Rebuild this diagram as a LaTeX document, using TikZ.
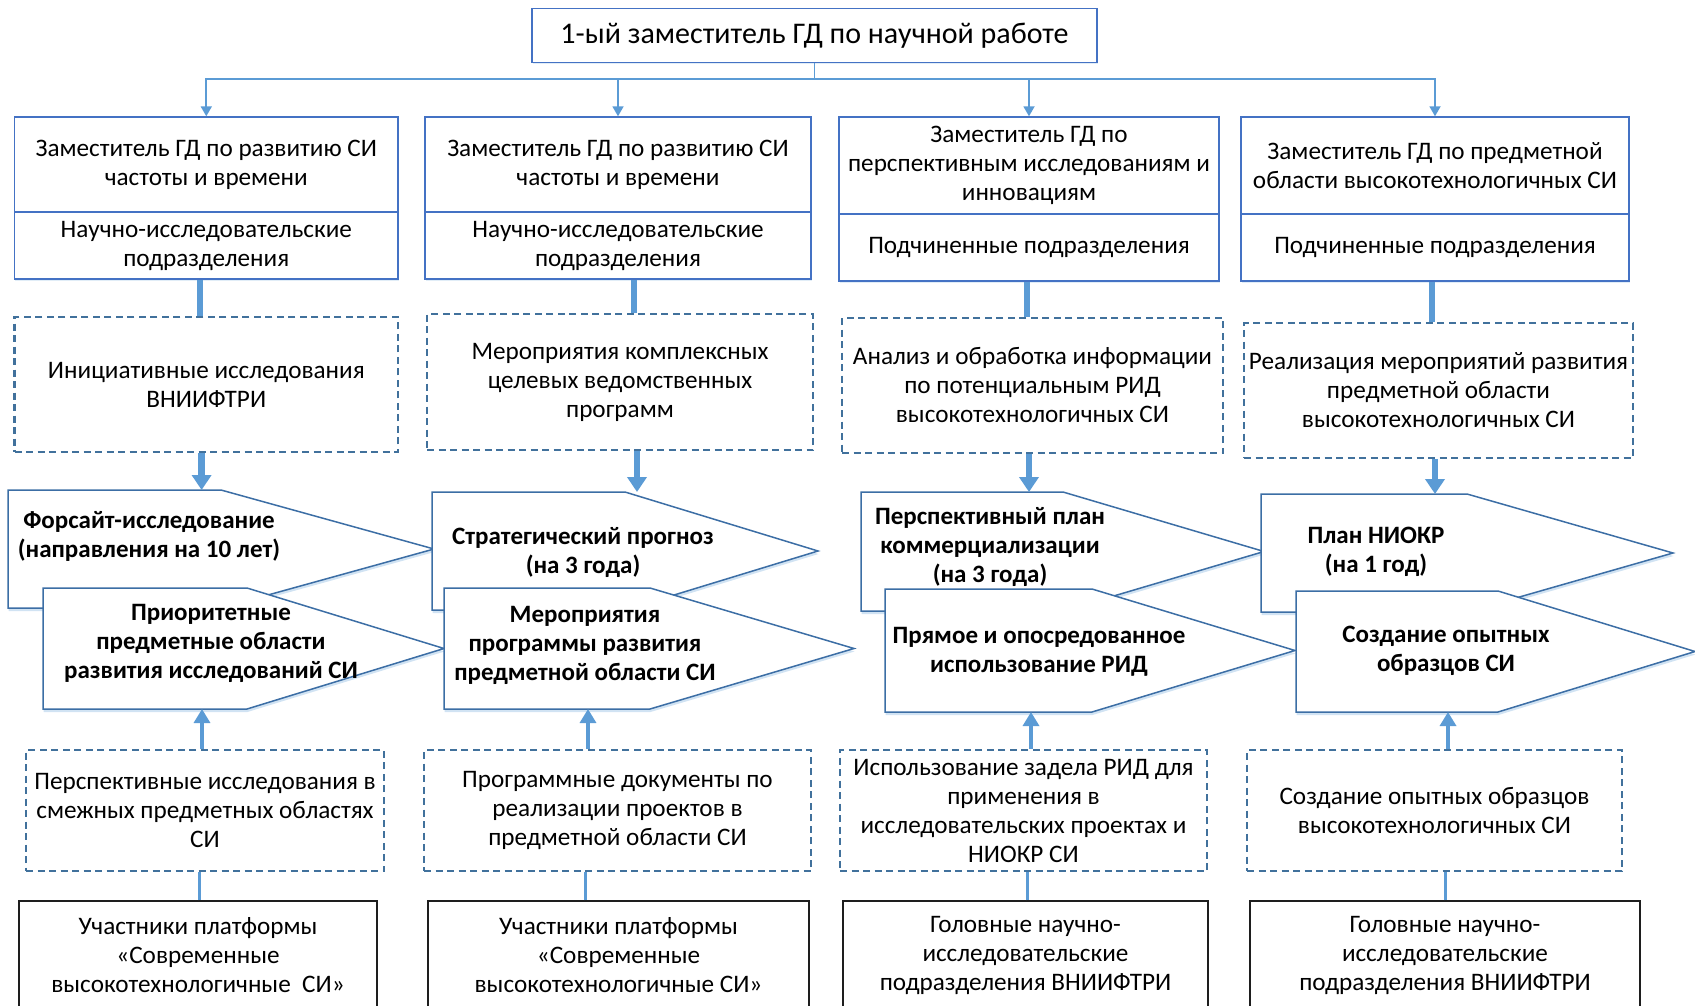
\documentclass[tikz,border=0pt]{standalone}
\usepackage{fontspec}
\setmainfont{Carlito}
\usetikzlibrary{arrows.meta,calc,shadows}
\definecolor{boxblue}{RGB}{68,114,196}
\definecolor{dashblue}{RGB}{65,113,156}
\definecolor{pentblue}{RGB}{60,110,165}
\definecolor{linkblue}{RGB}{91,155,213}
\definecolor{darkline}{RGB}{30,30,30}
\tikzset{
  txt/.style={font=\fontsize{25.2pt}{29pt}\selectfont, align=center, inner sep=1pt},
  topbox/.style={txt, draw=boxblue, line width=1.4pt, fill=white,
     drop shadow={shadow xshift=0.5pt, shadow yshift=-2pt, fill=linkblue, opacity=0.18}},
  dbox/.style={txt, draw=dashblue, line width=2.5pt, dash pattern=on 7pt off 4.5pt},
  ebox/.style={txt, draw=darkline, line width=1.2pt},
  pbody/.style={inner sep=0pt, outer sep=0pt, draw=none},
  pent/.style={draw=pentblue, line width=1.5pt, fill=white, line join=miter,
     drop shadow={shadow xshift=0.5pt, shadow yshift=-3pt, fill=linkblue, opacity=0.28}},
  ptxt/.style={font=\bfseries\fontsize{25pt}{29pt}\selectfont, align=center, inner sep=1pt},
  conn/.style={draw=linkblue, line width=1.8pt, -{Triangle[width=11pt,length=10pt]}},
  thickln/.style={draw=linkblue, line width=6.5pt},
  thickarr/.style={thickln, -{Triangle[width=19pt,length=15pt]}},
  medarr/.style={draw=linkblue, line width=3.3pt, -{Triangle[width=16pt,length=14pt]}},
  medln/.style={draw=linkblue, line width=3pt},
}
\begin{document}
\begin{tikzpicture}[x=1pt,y=-1pt]
\useasboundingbox (0,0) rectangle (1695,1006);
\clip (0,0) rectangle (1695,1006);

% ---------- top level ----------
\node[topbox, minimum width=565pt, minimum height=54pt,
      font=\fontsize{30pt}{34pt}\selectfont] (gd) at (814.5,35.3)
  {1-ый заместитель ГД по научной работе};
\coordinate (bus) at (814.5,79);

% ---------- deputies ----------
\node[topbox, minimum width=383.4pt, minimum height=95pt] (b1up) at (206.3,164.5)
  {Заместитель ГД по развитию СИ\\частоты и времени};
\node[topbox, minimum width=383.4pt, minimum height=67pt] (b1lo) at (206.3,245.5)
  {Научно-исследовательские\\подразделения};
\node[topbox, minimum width=386pt, minimum height=95pt] (b2up) at (618,164.5)
  {Заместитель ГД по развитию СИ\\частоты и времени};
\node[topbox, minimum width=386pt, minimum height=67pt] (b2lo) at (618,245.5)
  {Научно-исследовательские\\подразделения};
\node[topbox, minimum width=380pt, minimum height=97pt] (b3up) at (1029,165.5)
  {Заместитель ГД по\\перспективным исследованиям и\\инновациям};
\node[topbox, minimum width=380pt, minimum height=67pt] (b3lo) at (1029,247.5)
  {Подчиненные подразделения};
\node[topbox, minimum width=388pt, minimum height=97pt] (b4up) at (1435,165.5)
  {Заместитель ГД по предметной\\области высокотехнологичных СИ};
\node[topbox, minimum width=388pt, minimum height=67pt] (b4lo) at (1435,247.5)
  {Подчиненные подразделения};

\draw[conn] (gd.south) -- (bus) -| (b1up.north);
\draw[conn] (gd.south) -- (bus) -| (b2up.north);
\draw[conn] (gd.south) -- (bus) -| (b3up.north);
\draw[conn] (gd.south) -- (bus) -| (b4up.north);

% ---------- upper dashed boxes ----------
\node[dbox, minimum width=383.4pt, minimum height=135pt] (d1) at (206.3,384.5)
  {Инициативные исследования\\ВНИИФТРИ};
\node[dbox, minimum width=386pt, minimum height=136pt] (d2) at (620,382)
  {Мероприятия комплексных\\целевых ведомственных\\программ};
\node[dbox, minimum width=381pt, minimum height=135pt] (d3) at (1032.5,385.5)
  {Анализ и обработка информации\\по потенциальным РИД\\высокотехнологичных СИ};
\node[dbox, minimum width=389pt, minimum height=135pt] (d4) at (1438.5,390.5)
  {Реализация мероприятий развития\\предметной области\\высокотехнологичных СИ};

\draw[thickln] ([xshift=-6.3pt]b1lo.south) -- ([xshift=-6.3pt]b1lo.south |- d1.north);
\draw[thickln] ([xshift=16pt]b2lo.south) -- ([xshift=16pt]b2lo.south |- d2.north);
\draw[thickln] ([xshift=-2pt]b3lo.south) -- ([xshift=-2pt]b3lo.south |- d3.north);
\draw[thickln] ([xshift=-3pt]b4lo.south) -- ([xshift=-3pt]b4lo.south |- d4.north);

% ---------- pentagons ----------
\node[pbody, minimum width=213pt, minimum height=118pt] (p1) at (114.5,549) {};
\node[pbody, minimum width=204pt, minimum height=121pt] (p2) at (145,648.5) {};
\node[pbody, minimum width=193pt, minimum height=118pt] (p3) at (528.5,551) {};
\node[pbody, minimum width=206pt, minimum height=121pt] (p4) at (547,648.5) {};
\node[pbody, minimum width=202pt, minimum height=119pt] (p5) at (962,551.5) {};
\node[pbody, minimum width=207pt, minimum height=123pt] (p6) at (988.5,650.5) {};
\node[pbody, minimum width=206pt, minimum height=118pt] (p7) at (1364,553) {};
\node[pbody, minimum width=202pt, minimum height=121pt] (p8) at (1397,651.5) {};

\draw[pent] (p1.north west) -- (p1.north east) -- ([xshift=213pt]p1.east) -- (p1.south east) -- (p1.south west) -- cycle;
\node[ptxt] (t1) at (149,536) {Форсайт-исследование\\(направления на 10 лет)};
\draw[pent] (p2.north west) -- (p2.north east) -- ([xshift=197pt]p2.east) -- (p2.south east) -- (p2.south west) -- cycle;
\node[ptxt] (t2) at (211,643) {Приоритетные\\предметные области\\развития исследований СИ};
\draw[pent] (p3.north west) -- (p3.north east) -- ([xshift=193pt]p3.east) -- (p3.south east) -- (p3.south west) -- cycle;
\node[ptxt] (t3) at (583,552) {Стратегический прогноз\\(на 3 года)};
\draw[pent] (p4.north west) -- (p4.north east) -- ([xshift=204pt]p4.east) -- (p4.south east) -- (p4.south west) -- cycle;
\node[ptxt] (t4) at (585,645) {Мероприятия\\программы развития\\предметной области СИ};
\draw[pent] (p5.north west) -- (p5.north east) -- ([xshift=201pt]p5.east) -- (p5.south east) -- (p5.south west) -- cycle;
\node[ptxt] (t5) at (990,547) {Перспективный план\\коммерциализации\\(на 3 года)};
\draw[pent] (p6.north west) -- (p6.north east) -- ([xshift=203pt]p6.east) -- (p6.south east) -- (p6.south west) -- cycle;
\node[ptxt] (t6) at (1039,652) {Прямое и опосредованное\\использование РИД};
\draw[pent] (p7.north west) -- (p7.north east) -- ([xshift=206pt]p7.east) -- (p7.south east) -- (p7.south west) -- cycle;
\node[ptxt] (t7) at (1376,552) {План НИОКР\\(на 1 год)};
\draw[pent] (p8.north west) -- (p8.north east) -- ([xshift=197pt]p8.east) -- (p8.south east) -- (p8.south west) -- cycle;
\node[ptxt] (t8) at (1446,651) {Создание опытных\\образцов СИ};

\draw[thickarr] ([xshift=-4.7pt]d1.south) -- ([xshift=-4.7pt]d1.south |- p1.north);
\draw[thickarr] ([xshift=17pt]d2.south) -- ([xshift=17pt]d2.south |- p3.north);
\draw[thickarr] ([xshift=-3.5pt]d3.south) -- ([xshift=-3.5pt]d3.south |- p5.north);
\draw[thickarr] ([xshift=-3.5pt]d4.south) -- ([xshift=-3.5pt]d4.south |- p7.north);

% ---------- lower dashed boxes ----------
\node[dbox, minimum width=358pt, minimum height=121pt] (d5) at (205,810.5)
  {Перспективные исследования в\\смежных предметных областях\\СИ};
\node[dbox, minimum width=387pt, minimum height=121pt] (d6) at (617.5,810.5)
  {Программные документы по\\реализации проектов в\\предметной области СИ};
\node[dbox, minimum width=367pt, minimum height=121pt] (d7) at (1023.5,810.5)
  {Использование задела РИД для\\применения в\\исследовательских проектах и\\НИОКР СИ};
\node[dbox, minimum width=375pt, minimum height=121pt] (d8) at (1434.5,810.5)
  {Создание опытных образцов\\высокотехнологичных СИ};

\draw[medarr] ([xshift=-3pt]d5.north) -- ([xshift=-3pt]d5.north |- p2.south);
\draw[medarr] ([xshift=-29.5pt]d6.north) -- ([xshift=-29.5pt]d6.north |- p4.south);
\draw[medarr] ([xshift=7.5pt]d7.north) -- ([xshift=7.5pt]d7.north |- p6.south);
\draw[medarr] ([xshift=13.5pt]d8.north) -- ([xshift=13.5pt]d8.north |- p8.south);

% ---------- bottom boxes ----------
\node[ebox, minimum width=358pt, minimum height=109pt] (e1) at (198,955.5)
  {Участники платформы\\«Современные\\высокотехнологичные\ \ СИ»};
\node[ebox, minimum width=381pt, minimum height=109pt] (e2) at (618.5,955.5)
  {Участники платформы\\«Современные\\высокотехнологичные СИ»};
\node[ebox, minimum width=365pt, minimum height=109pt] (e3) at (1025.5,955.5)
  {Головные научно-\\исследовательские\\подразделения ВНИИФТРИ};
\node[ebox, minimum width=390pt, minimum height=109pt] (e4) at (1445,955.5)
  {Головные научно-\\исследовательские\\подразделения ВНИИФТРИ};

\draw[medln] ([xshift=1pt]e1.north) -- ([xshift=1pt]e1.north |- d5.south);
\draw[medln] ([xshift=-33.5pt]e2.north) -- ([xshift=-33.5pt]e2.north |- d6.south);
\draw[medln] ([xshift=1.5pt]e3.north) -- ([xshift=1.5pt]e3.north |- d7.south);
\draw[medln] (e4.north) -- (e4.north |- d8.south);
\end{tikzpicture}
\end{document}
